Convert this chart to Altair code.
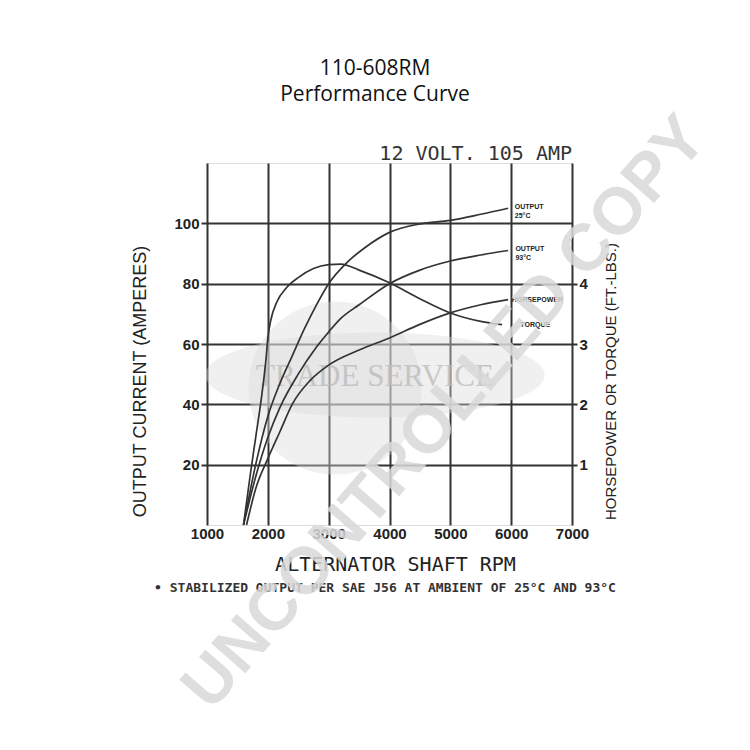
import altair as alt
import pandas as pd

# ---- data ----
rpm_out25 = [1600, 1800, 2000, 2200, 2400, 2600, 2800, 3000, 3300, 3600, 4000, 4500, 5000, 5500, 5950]
amp_out25 = [0, 20, 36, 47, 56, 65, 73, 80, 87, 92, 97, 99.8, 101, 103, 105]

rpm_out93 = [1600, 1800, 2000, 2200, 2500, 2800, 3000, 3200, 3500, 4000, 4500, 5000, 5500, 5950]
amp_out93 = [0, 16, 29, 39, 50, 59, 64, 68.5, 73, 80, 84.5, 87.5, 89.5, 91]

rpm_hp = [1650, 1800, 2000, 2200, 2400, 2700, 3000, 3500, 4000, 4500, 5000, 5500, 5950]
amp_hp = [0, 12, 22, 31, 40, 48, 53, 58, 62, 66.5, 70.3, 73, 74.7]

rpm_tq = [1600, 1700, 1800, 1900, 1970, 2000, 2050, 2150, 2300, 2500, 2750, 3000, 3200, 3500, 4000, 4500, 5000, 5500, 5850]
amp_tq = [0, 15, 29, 43, 55, 62, 68, 74, 78.5, 82, 85, 86.3, 86.5, 84.5, 80.3, 75, 70.3, 67.5, 66.4]

label_text = ["OUTPUT\n25°C", "OUTPUT\n93°C", "HORSEPOWER", "TORQUE"]
label_rpm = [6060, 6070, 6010, 6150]
label_amp = [105.5, 91.5, 74.7, 66.2]

x_ticks = [1000, 2000, 3000, 4000, 5000, 6000, 7000]
y_ticks = [20, 40, 60, 80, 100]
right_ticks = [1, 2, 3, 4]

title_lines = ["110-608RM", "Performance Curve"]

frames = []
for name, xs, ys in [("out25", rpm_out25, amp_out25), ("out93", rpm_out93, amp_out93),
                     ("hp", rpm_hp, amp_hp), ("tq", rpm_tq, amp_tq)]:
    frames.append(pd.DataFrame({"rpm": xs, "amps": ys, "series": name}))
curves = pd.concat(frames, ignore_index=True)
labels = pd.DataFrame({"rpm": label_rpm, "amps": label_amp, "text": label_text})

INK = "#333333"
W, H = 365, 362

xscale = alt.Scale(domain=[1000, 7000], nice=False, zero=False)
yscale = alt.Scale(domain=[0, 120], nice=False)

x_enc = alt.X("rpm:Q", scale=xscale, axis=alt.Axis(
    values=x_ticks, format="d", title="ALTERNATOR SHAFT RPM", grid=True, gridColor=INK, gridWidth=2,
    gridOpacity=1, domain=False, ticks=False, labelPadding=1, labelFont="Liberation Sans",
    labelFontWeight="bold", labelFontSize=15, labelColor="#222", labelFlush=False,
    titleFont="DejaVu Sans Mono", titleFontWeight="normal", titleFontSize=20, titleColor="#222",
    titlePadding=13, titleX=188))
y_enc = alt.Y("amps:Q", scale=yscale, axis=alt.Axis(
    values=y_ticks, title="OUTPUT  CURRENT  (AMPERES)", grid=True, gridColor=INK, gridWidth=2, gridOpacity=1,
    domain=False, ticks=True, tickSize=6, tickWidth=2, tickColor=INK, labelPadding=2,
    labelFont="Liberation Sans", labelFontWeight="bold", labelFontSize=15, labelColor="#222",
    titleFont="Liberation Sans", titleFontWeight="normal", titleFontSize=18, titleColor="#222",
    titleAngle=270, titleX=-67, titleY=218, titleAlign="center", titleBaseline="middle"))

lines = alt.Chart(curves).mark_line(interpolate="monotone", color=INK, strokeWidth=1.7).encode(
    x=x_enc, y=y_enc, detail="series:N")

curve_labels = alt.Chart(labels).mark_text(
    align="left", baseline="middle", fontSize=7, fontWeight="bold", font="Liberation Sans",
    color="#222", lineBreak="\n").encode(x="rpm:Q", y="amps:Q", text="text:N")

right_axis = alt.Chart(pd.DataFrame({"hp": [0, 6]})).mark_point(opacity=0).encode(
    y=alt.Y("hp:Q", scale=alt.Scale(domain=[0, 6], nice=False), axis=alt.Axis(
        orient="right", values=right_ticks, title="HORSEPOWER OR TORQUE (FT.-LBS.)", grid=False,
        domain=False, ticks=True, tickSize=5, tickWidth=2, tickColor=INK, labelPadding=2,
        labelFont="Liberation Sans", labelFontWeight="bold", labelFontSize=15, labelColor="#222",
        titleFont="Liberation Sans", titleFontWeight="normal", titleFontSize=15, titleColor="#222",
        titleAngle=270, titleX=38, titleY=218, titleAlign="center", titleBaseline="middle")))

spec_text = alt.Chart(pd.DataFrame({"t": ["12 VOLT. 105 AMP"]})).mark_text(
    align="right", baseline="alphabetic", font="DejaVu Sans Mono", fontSize=20, color="#333").encode(
    text="t:N", x=alt.value(W), y=alt.value(-3))

foot = alt.Chart(pd.DataFrame({"t": ["• STABILIZED OUTPUT PER SAE J56 AT AMBIENT OF 25°C AND 93°C"]})).mark_text(
    align="center", baseline="middle", font="DejaVu Sans Mono", fontWeight="bold", fontSize=13,
    color="#333").encode(text="t:N", x=alt.value(178), y=alt.value(425))

title_text = alt.Chart(pd.DataFrame({"t": ["\n".join(title_lines)]})).mark_text(
    align="center", baseline="alphabetic", font="Open Sans", fontSize=21, lineHeight=26,
    lineBreak="\n", color="#111").encode(text="t:N", x=alt.value(168), y=alt.value(-88))

# watermark logo
logo_circle = alt.Chart(pd.DataFrame({"k": [1]})).mark_point(
    shape="circle", filled=True, size=30000, color="#d9d9d9", opacity=0.4).encode(
    x=alt.value(128), y=alt.value(225))
logo_ellipse = alt.Chart(pd.DataFrame({"k": [1]})).mark_point(
    shape="M -1 0 A 1 0.25 0 1 0 1 0 A 1 0.25 0 1 0 -1 0 Z", filled=True, size=115000,
    color="#d9d9d9", opacity=0.4).encode(x=alt.value(168), y=alt.value(212))
logo_text = alt.Chart(pd.DataFrame({"t": ["TRADE SERVICE"]})).mark_text(
    align="center", baseline="middle", font="Liberation Serif", fontSize=31, color="#bdbdbd",
    opacity=0.8).encode(text="t:N", x=alt.value(168), y=alt.value(214))
watermark = alt.Chart(pd.DataFrame({"t": ["UNCONTROLLED COPY"]})).mark_text(
    align="center", baseline="middle", font="Liberation Sans", fontWeight="bold", fontSize=66,
    angle=311, color="#d9d9d9", opacity=0.85).encode(text="t:N", x=alt.value(238), y=alt.value(250))

main = alt.layer(logo_circle, logo_ellipse, logo_text, lines, curve_labels, spec_text, foot,
                 title_text, watermark)

chart = alt.layer(main, right_axis).resolve_scale(y="independent").properties(
    width=W, height=H,
    autosize=alt.AutoSizeParams(type="none"),
    padding={"left": 199, "top": 155, "right": 170, "bottom": 200},
).configure_view(stroke=INK, strokeWidth=2).configure(background="white")

chart.save("out.html", embed_options={"renderer": "svg", "actions": False})
